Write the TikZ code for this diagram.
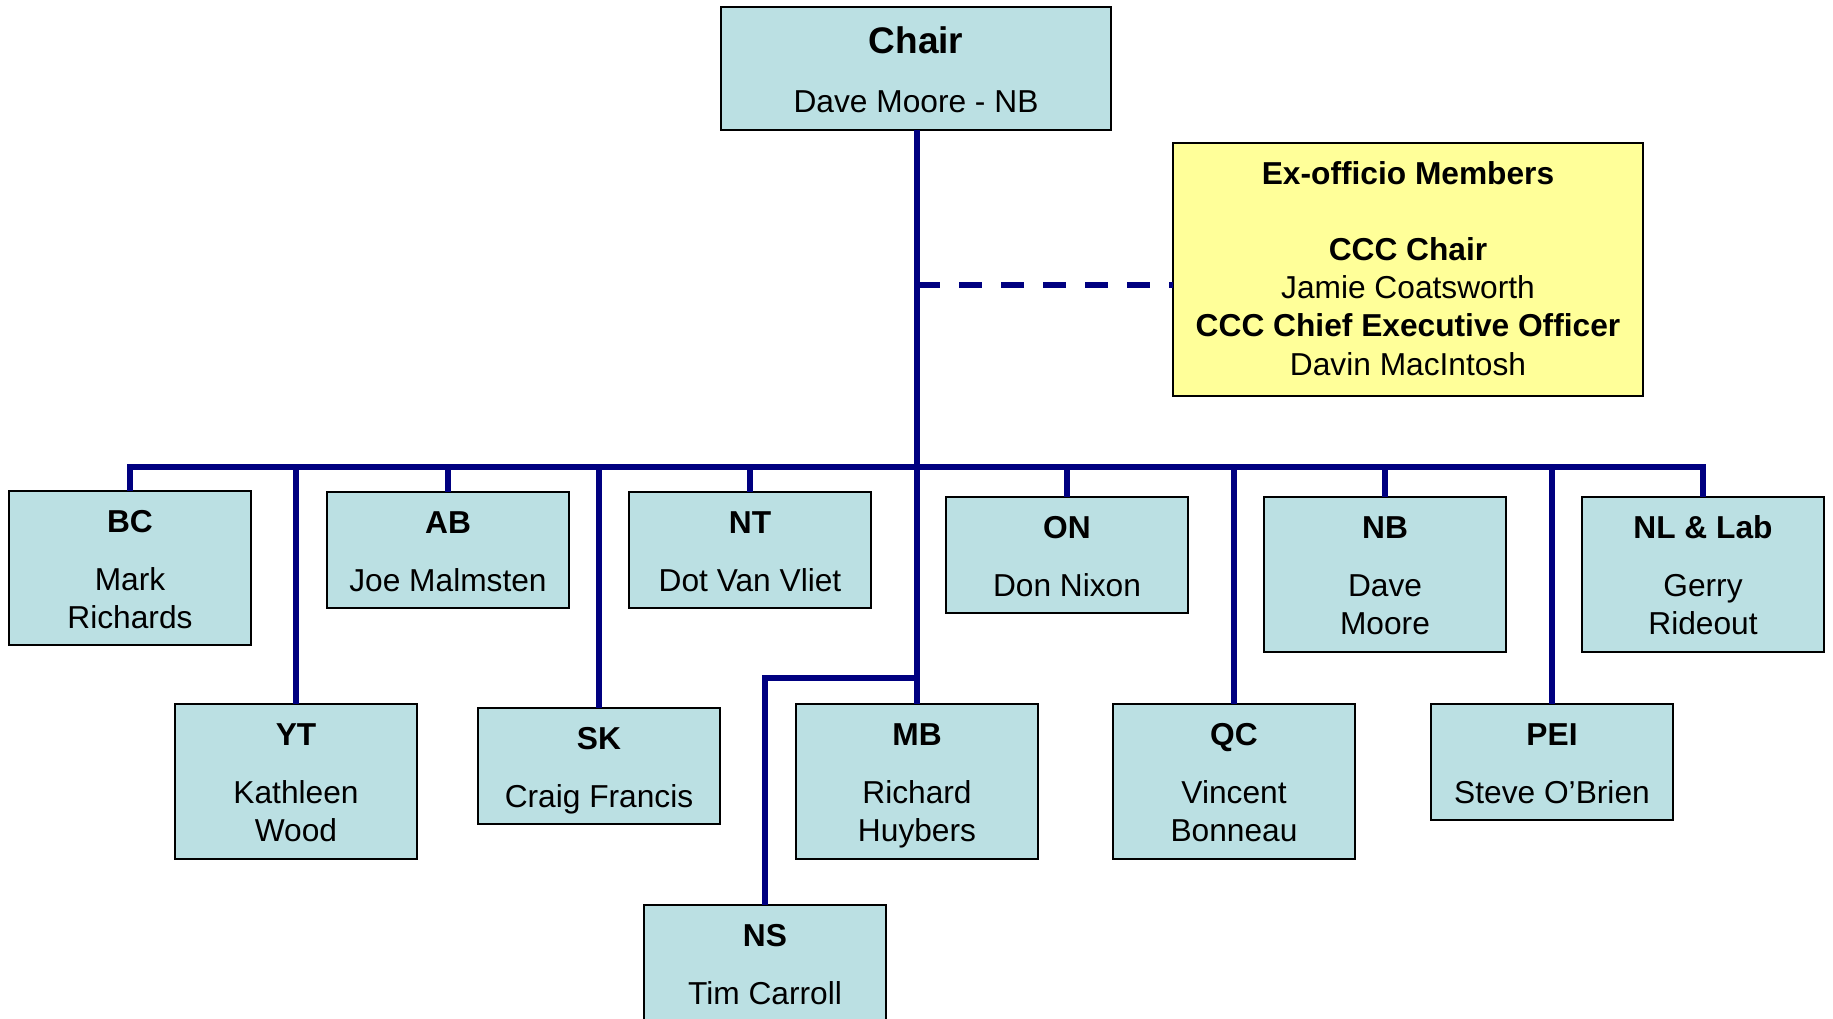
\documentclass[tikz,border=0pt]{standalone}
\usepackage{fontspec}
\setmainfont{Liberation Sans}
\definecolor{boxblue}{RGB}{187,224,227}
\definecolor{exyellow}{RGB}{255,255,153}
\definecolor{linkblue}{RGB}{0,0,128}
\newcommand\bodyfont{\fontsize{31.7}{38.3}\selectfont}
\newcommand\chairfont{\fontsize{37}{44}\selectfont\bfseries}
\tikzset{
  obox/.style={draw=black, line width=1.8pt, fill=boxblue, rectangle, inner sep=0pt, outer sep=0pt, minimum width=242pt},
  otitle/.style={inner sep=0pt, font=\bodyfont\bfseries},
  oname/.style={inner sep=0pt, align=center, font=\bodyfont},
  link/.style={draw=linkblue, line width=6pt, line join=miter},
  dashlink/.style={draw=linkblue, line width=6pt, dash pattern=on 23.3pt off 18.7pt}
}
% name, left, top, height, title, names
\newcommand\orgbox[6]{%
  \node[obox, minimum height=#4pt, anchor=north west] (#1) at (#2,#3) {};
  \node[otitle, anchor=base] (#1t) at ([yshift=-41.3pt]#1.north) {#5};
  \node[oname, anchor=north] (#1n) at ([yshift=-72.5pt]#1.north) {\strut #6};
}
\begin{document}
\begin{tikzpicture}[x=1pt,y=-1pt]
\clip (0,0) rectangle (1833,1018);
\fill[white] (0,0) rectangle (1833,1018);

% Chair
\node[obox, minimum width=390pt, minimum height=123pt, anchor=north west] (Chair) at (721,7) {};
\node[inner sep=0pt, anchor=base, font=\chairfont] (Chairt) at ([yshift=-46pt]Chair.north) {Chair};
\node[inner sep=0pt, anchor=base, font=\bodyfont] (Chairn) at ([yshift=-105pt]Chair.north) {Dave Moore - NB};

% Ex-officio
\node[draw=black, line width=1.8pt, fill=exyellow, inner sep=0pt, outer sep=0pt,
      minimum width=470pt, minimum height=253pt, anchor=north west] (Ex) at (1173,143) {};
\node[inner sep=0pt, anchor=north, align=center, font=\bodyfont] (Ext) at ([yshift=-14.3pt]Ex.north)
  {\strut\textbf{Ex-officio Members}\\[37.5pt]\textbf{CCC Chair}\\Jamie Coatsworth\\\textbf{CCC Chief Executive Officer}\\Davin MacIntosh};

% Row 1
\orgbox{BC}{9}{491}{154}{BC}{Mark\\Richards}
\orgbox{AB}{327}{492}{116}{AB}{Joe Malmsten}
\orgbox{NT}{629}{492}{116}{NT}{Dot Van Vliet}
\orgbox{ON}{946}{497}{116}{ON}{Don Nixon}
\orgbox{NB}{1264}{497}{155}{NB}{Dave\\Moore}
\orgbox{NL}{1582}{497}{155}{NL \& Lab}{Gerry\\Rideout}
% Row 2
\orgbox{YT}{175}{704}{155}{YT}{Kathleen\\Wood}
\orgbox{SK}{478}{708}{116}{SK}{Craig Francis}
\orgbox{MB}{796}{704}{155}{MB}{Richard\\Huybers}
\orgbox{QC}{1113}{704}{155}{QC}{Vincent\\Bonneau}
\orgbox{PEI}{1431}{704}{116}{PEI}{Steve O’Brien}
% Row 3
\orgbox{NS}{644}{905}{155}{NS}{Tim Carroll}

% Connectors
\coordinate (bus) at (917,467);
\coordinate (dj) at (917,285);
\coordinate (nsj) at (917,678);

\draw[link] (MB.north |- Chair.south) -- (MB.north);
\draw[dashlink] (dj) -- (dj -| Ex.west);
\draw[link] (BC.north) -- (BC.north |- bus) -- (NL.north |- bus) -- (NL.north);
\draw[link] (AB.north |- bus) -- (AB.north);
\draw[link] (NT.north |- bus) -- (NT.north);
\draw[link] (ON.north |- bus) -- (ON.north);
\draw[link] (NB.north |- bus) -- (NB.north);
\draw[link] (YT.north |- bus) -- (YT.north);
\draw[link] (SK.north |- bus) -- (SK.north);
\draw[link] (QC.north |- bus) -- (QC.north);
\draw[link] (PEI.north |- bus) -- (PEI.north);
\draw[link] (nsj) -| (NS.north);
\end{tikzpicture}
\end{document}
